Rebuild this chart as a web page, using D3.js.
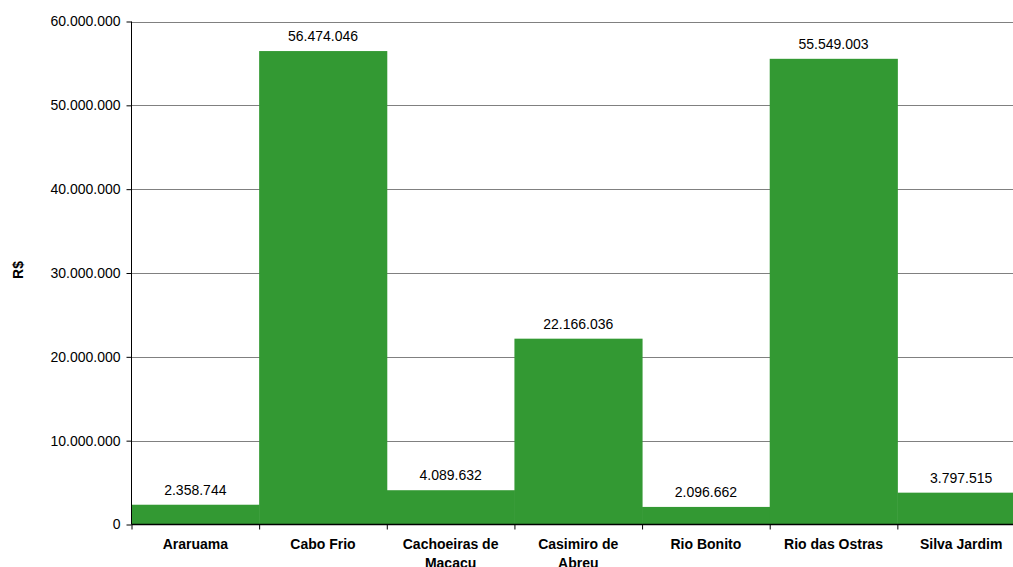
<!DOCTYPE html>
<html><head><meta charset="utf-8">
<script src="https://cdn.jsdelivr.net/npm/d3@7"></script>
<style>body{margin:0;background:#fff}svg{display:block;font-family:"Liberation Sans",Arial,sans-serif}</style>
</head><body>
<svg id="c" width="1013" height="567"></svg>
<script>
const categories = [["Araruama"],["Cabo Frio"],["Cachoeiras de","Macacu"],["Casimiro de","Abreu"],["Rio Bonito"],["Rio das Ostras"],["Silva Jardim"]];
const values = [2358744, 56474046, 4089632, 22166036, 2096662, 55549003, 3797515];
const yTicks = [0, 10000000, 20000000, 30000000, 40000000, 50000000, 60000000];
const yTitle = "R$";

(function(){
const svg = d3.select("#c");
const pLeft = 131.5, pRight = 1025, pTop = 21.5, pBottom = 524.5;
const keys = categories.map((c,i)=>i);
const x = d3.scaleBand().domain(keys).range([pLeft,pRight]).padding(0);
const y = d3.scaleLinear().domain([0,60000000]).range([pBottom,pTop]);
const fmt = v => d3.format(",")(v).replace(/,/g,".");

// gridlines
svg.append("g").selectAll("line").data(yTicks.slice(1)).join("line")
  .attr("x1",pLeft).attr("x2",pRight).attr("y1",d=>Math.round(y(d))+0.5).attr("y2",d=>Math.round(y(d))+0.5)
  .attr("stroke","#808080").attr("stroke-width",1);

// bars
svg.append("g").selectAll("rect").data(values).join("rect")
  .attr("x",(d,i)=>x(i)).attr("width",x.bandwidth()+0.5)
  .attr("y",d=>y(d)).attr("height",d=>pBottom-y(d))
  .attr("fill","#339933");

// value labels
svg.append("g").selectAll("text").data(values).join("text")
  .attr("x",(d,i)=>x(i)+x.bandwidth()/2).attr("y",d=>y(d)-10)
  .attr("text-anchor","middle").attr("font-size",14).attr("fill","#000")
  .text(d=>fmt(d));

// y axis
const ya = d3.axisLeft(y).tickValues(yTicks).tickSize(5).tickFormat(fmt);
const yg = svg.append("g").attr("transform",`translate(${pLeft},0)`).call(ya);
yg.select(".domain").attr("d",`M0,${pTop}V${pBottom}`).attr("stroke","#000");
yg.selectAll(".tick line").attr("stroke","#000");
yg.selectAll(".tick text").attr("font-size",14).attr("font-family","Liberation Sans, Arial, sans-serif").attr("fill","#000").attr("x",-11);

// x axis
const xa = d3.axisBottom(d3.scaleLinear().domain([0,7]).range([pLeft,pRight])).tickValues(d3.range(8)).tickSize(5).tickFormat("");
const xg = svg.append("g").attr("transform",`translate(0,${pBottom})`).call(xa);
xg.select(".domain").attr("d",`M${pLeft},0H${pRight}`).attr("stroke","#000").attr("stroke-width",1.5);
xg.selectAll(".tick line").attr("stroke","#000");

// category labels
const cl = svg.append("g").selectAll("text").data(categories).join("text")
  .attr("x",(d,i)=>x(i)+x.bandwidth()/2).attr("y",549)
  .attr("text-anchor","middle").attr("font-size",14).attr("font-weight","bold").attr("fill","#000");
cl.selectAll("tspan").data(d=>d).join("tspan")
  .attr("x",function(){return this.parentNode.getAttribute("x");})
  .attr("dy",(d,j)=>j===0?0:19).text(d=>d);

// y title
svg.append("text").attr("transform","translate(23,270) rotate(-90)")
  .attr("text-anchor","middle").attr("font-size",14).attr("font-weight","bold").text(yTitle);
})();
</script>
</body></html>
